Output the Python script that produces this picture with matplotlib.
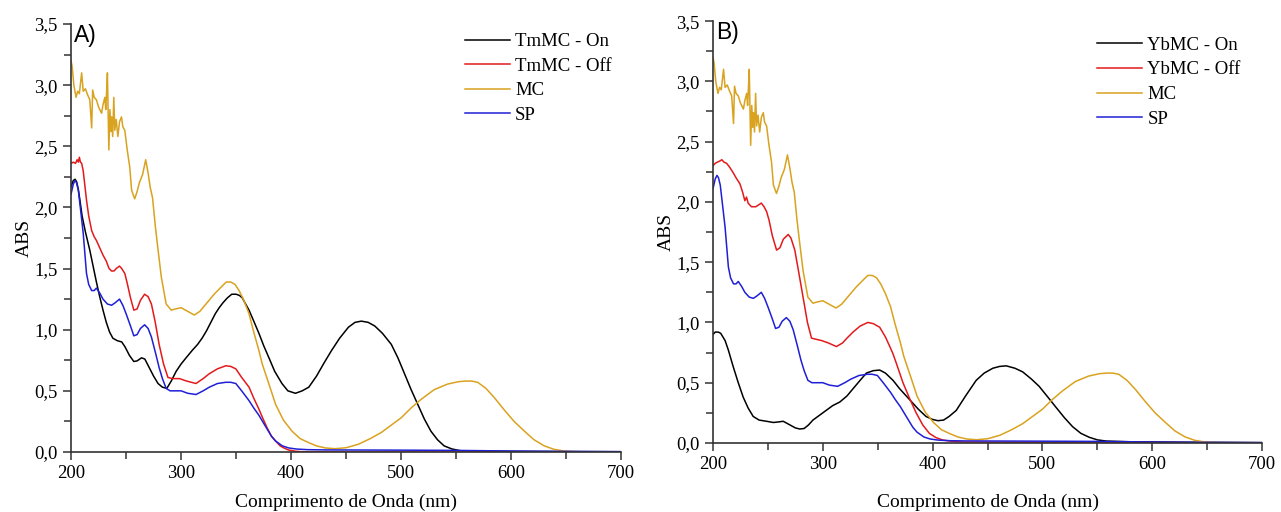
import matplotlib
matplotlib.use("Agg")
import matplotlib.pyplot as plt
from matplotlib.ticker import MultipleLocator, FuncFormatter

plt.rcParams['font.family'] = ['Liberation Serif', 'DejaVu Serif']

# ---- data (nm, absorbance) ----
wl_sp = [200, 202, 203.6, 205, 206.6, 209, 211, 214, 216, 218.7, 221, 223, 226, 229, 233,
         236.8, 240, 244, 247, 250, 254, 257, 260, 263, 266.8, 270, 273, 277, 280, 283,
         286.4, 290, 294, 300, 306, 313.5, 320, 325.6, 333, 340.6, 345, 349.7, 355, 361.7,
         366, 370.7, 374, 378, 382, 385.8, 392, 397.8, 405, 415, 430, 500, 550, 600, 650, 700]
abs_sp = [2.11, 2.19, 2.22, 2.20, 2.14, 1.95, 1.79, 1.46, 1.37, 1.32, 1.32, 1.34, 1.30, 1.25, 1.21,
          1.20, 1.22, 1.25, 1.20, 1.13, 1.03, 0.95, 0.96, 1.01, 1.04, 1.01, 0.94, 0.80, 0.69, 0.60,
          0.52, 0.50, 0.50, 0.50, 0.48, 0.47, 0.50, 0.53, 0.56, 0.57, 0.57, 0.56, 0.50, 0.42,
          0.36, 0.30, 0.25, 0.19, 0.13, 0.09, 0.05, 0.033, 0.024, 0.019, 0.017, 0.015, 0.013, 0.008, 0.005, 0.003]

wl_mc = [200, 201, 202.5, 204.5, 206, 207.5, 209.6, 211, 213, 215, 217, 218.7, 219.6, 221, 223,
         225, 227.7, 229, 230.7, 231.5, 232.2, 233, 234.3, 235.3, 236.2, 236.8, 237.8, 238.8,
         239.7, 241, 242.5, 244, 245.8, 247, 248.8, 251, 253.3, 255, 257.8, 260, 262, 265,
         267.8, 270, 272, 274, 276.5, 278.8, 282, 286.4, 291, 295, 300, 306, 312, 317, 322.6,
         330, 337.6, 341, 345, 349, 352.7, 357, 361.7, 366, 370.7, 373.7, 380, 385.8, 393,
         400.8, 408, 416, 423, 431, 440, 450, 461, 472, 482, 491, 500, 509, 518, 530, 542,
         552, 559, 564, 569.5, 577, 584.6, 594, 602.6, 612, 620.7, 630, 638.8, 648, 657, 670, 700]
abs_mc = [3.20, 3.15, 3.00, 2.90, 2.95, 2.93, 3.10, 2.95, 2.97, 2.92, 2.88, 2.65, 2.96, 2.90, 2.88,
          2.82, 2.77, 2.84, 2.90, 2.80, 2.93, 3.10, 2.47, 2.80, 2.62, 2.74, 2.58, 2.90,
          2.63, 2.72, 2.58, 2.70, 2.74, 2.66, 2.63, 2.47, 2.33, 2.14, 2.07, 2.13, 2.20, 2.27,
          2.39, 2.28, 2.16, 2.08, 1.85, 1.67, 1.43, 1.21, 1.16, 1.17, 1.18, 1.15, 1.12, 1.15, 1.21,
          1.29, 1.36, 1.39, 1.39, 1.37, 1.32, 1.24, 1.13, 0.98, 0.83, 0.72, 0.55, 0.39, 0.26,
          0.17, 0.11, 0.076, 0.05, 0.033, 0.027, 0.035, 0.063, 0.11, 0.16, 0.22, 0.28, 0.36, 0.43, 0.51, 0.555,
          0.575, 0.58, 0.58, 0.57, 0.52, 0.445, 0.34, 0.25, 0.17, 0.10, 0.05, 0.022, 0.008, 0.003, 0.0, 0.0]

wl_tm_on = [200, 202, 203.6, 205, 206.5, 208, 210, 213, 217, 220, 223, 226, 229, 232, 235, 238,
            242, 246, 249, 253, 257, 260, 264, 267, 271, 275, 279, 283, 287, 291, 295.5, 300,
            304.5, 310, 315, 319, 323, 327, 331, 334.6, 338, 342, 346, 350, 353, 355.6, 358,
            361.7, 366, 370.7, 375, 379.8, 385, 391.6, 397, 403.9, 410, 416, 423, 430, 436.7,
            444, 452, 458, 463.8, 470, 476, 483, 491, 497, 503, 509, 515, 521, 527, 533, 539,
            546, 554, 570, 620, 700]
abs_tm_on = [2.17, 2.22, 2.23, 2.21, 2.15, 2.06, 1.93, 1.80, 1.65, 1.52, 1.39, 1.27, 1.16, 1.06, 0.98, 0.93,
             0.91, 0.90, 0.86, 0.79, 0.74, 0.745, 0.77, 0.76, 0.69, 0.62, 0.56, 0.53, 0.52, 0.58, 0.66, 0.72,
             0.77, 0.83, 0.88, 0.93, 0.99, 1.06, 1.13, 1.18, 1.22, 1.26, 1.29, 1.29, 1.28, 1.26, 1.22,
             1.16, 1.07, 0.97, 0.87, 0.77, 0.66, 0.56, 0.50, 0.48, 0.50, 0.53, 0.62, 0.73, 0.83,
             0.93, 1.02, 1.06, 1.07, 1.06, 1.03, 0.97, 0.88, 0.77, 0.64, 0.51, 0.39, 0.27, 0.17, 0.10, 0.05,
             0.025, 0.01, 0.006, 0.004, 0.002]

wl_tm_off = [200, 202, 204, 205.5, 206.6, 207.5, 208.5, 209.6, 211, 212.5, 214, 216, 218.7, 221,
             223, 226, 229, 232, 234.5, 236.8, 239, 241, 244, 246, 248.8, 251, 254, 257, 260, 263,
             266.8, 270, 273, 276.5, 280, 284, 288, 292, 298.5, 305, 313.5, 320, 325.6, 333, 340.6,
             345, 349.7, 355, 361.7, 366, 370.7, 374, 378, 382, 385.8, 390, 394, 397.8, 404, 410, 450, 700]
abs_tm_off = [2.36, 2.37, 2.36, 2.39, 2.37, 2.41, 2.37, 2.36, 2.30, 2.18, 2.06, 1.93, 1.81, 1.76,
              1.73, 1.67, 1.61, 1.56, 1.50, 1.48, 1.48, 1.50, 1.52, 1.50, 1.46, 1.38, 1.26, 1.16, 1.17, 1.24,
              1.29, 1.27, 1.21, 1.06, 0.88, 0.72, 0.61, 0.60, 0.60, 0.58, 0.56, 0.60, 0.64, 0.68, 0.705,
              0.70, 0.68, 0.61, 0.53, 0.44, 0.35, 0.28, 0.20, 0.13, 0.09, 0.05, 0.03, 0.016, 0.006, 0.002, 0.0, 0.0]

wl_yb_on = [200, 202, 204.8, 207, 209, 211, 214, 218.5, 223, 227.5, 232, 236.6, 242, 248.8, 255, 260,
            263.9, 267, 270, 275, 279, 283, 287, 291, 297, 303, 309, 315.5, 322, 327.5, 334, 339.7,
            346, 351.8, 357, 363.9, 370, 379, 387, 394, 400, 404.8, 410, 415, 421.5, 430, 439.7,
            447, 454.8, 461, 467, 475, 482, 490, 497, 505, 512, 520, 527.5, 535, 542.7, 550, 558,
            580, 630, 700]
abs_yb_on = [0.90, 0.92, 0.92, 0.91, 0.88, 0.85, 0.77, 0.63, 0.50, 0.38, 0.29, 0.22, 0.19, 0.18, 0.17, 0.175,
             0.18, 0.165, 0.15, 0.125, 0.116, 0.12, 0.15, 0.19, 0.23, 0.27, 0.31, 0.34, 0.39, 0.45, 0.52, 0.58,
             0.60, 0.605, 0.58, 0.52, 0.45, 0.36, 0.28, 0.22, 0.195, 0.185, 0.19, 0.22, 0.27, 0.39, 0.52,
             0.58, 0.62, 0.635, 0.64, 0.62, 0.59, 0.53, 0.47, 0.38, 0.30, 0.21, 0.135, 0.08, 0.047, 0.026, 0.016,
             0.01, 0.006, 0.003]

wl_yb_off = [200, 202, 204, 206.4, 208, 210, 212.4, 215, 218.5, 221, 224.5, 227, 229, 230.5, 232, 235,
             239, 244, 246.5, 248.8, 251, 254, 257.9, 261, 264, 268.5, 271, 274.5, 278, 282, 286,
             289.7, 294, 298.8, 305, 312.4, 318, 322, 327.5, 334, 341, 346, 351.8, 357, 361, 363.9,
             367, 370, 373, 379, 385, 391, 397, 403, 409, 418, 427.5, 500, 600, 700]
abs_yb_off = [2.30, 2.32, 2.33, 2.34, 2.35, 2.33, 2.32, 2.29, 2.24, 2.20, 2.15, 2.08, 2.01, 2.04, 1.99, 1.96,
              1.96, 1.99, 1.96, 1.92, 1.85, 1.72, 1.60, 1.62, 1.69, 1.73, 1.70, 1.60, 1.42, 1.21, 1.00,
              0.87, 0.86, 0.85, 0.83, 0.80, 0.83, 0.87, 0.92, 0.97, 1.00, 0.99, 0.96, 0.88, 0.80, 0.74,
              0.66, 0.58, 0.50, 0.37, 0.25, 0.15, 0.08, 0.045, 0.025, 0.013, 0.008, 0.005, 0.003, 0.002]

C_ON, C_OFF, C_MC, C_SP = "#000000", "#e31a1c", "#d9a21f", "#1f1fd6"

panels = [
    dict(tag="A)", on=(wl_tm_on, abs_tm_on, "TmMC - On"), off=(wl_tm_off, abs_tm_off, "TmMC - Off"),
         rect=[0.0555, 0.1172, 0.4295, 0.836], leg=(0.716, 0.979), xpad=8.0, ypad=1.5),
    dict(tag="B)", on=(wl_yb_on, abs_yb_on, "YbMC - On"), off=(wl_yb_off, abs_yb_off, "YbMC - Off"),
         rect=[0.5566, 0.1348, 0.4286, 0.824], leg=(0.700, 0.963), xpad=15.0, ypad=1.0),
]

comma = FuncFormatter(lambda v, p: f"{v:.1f}".replace(".", ","))

fig = plt.figure(figsize=(12.81, 5.12), dpi=100)
for p in panels:
    ax = fig.add_axes(p["rect"])
    ax.plot(p["on"][0], p["on"][1], color=C_ON, lw=1.1, label=p["on"][2])
    ax.plot(p["off"][0], p["off"][1], color=C_OFF, lw=1.1, label=p["off"][2])
    ax.plot(wl_mc, abs_mc, color=C_MC, lw=1.1, label="MC")
    ax.plot(wl_sp, abs_sp, color=C_SP, lw=1.1, label="SP")

    ax.set_xlim(200, 700)
    ax.set_ylim(0, 3.5)
    for s in ("top", "right"):
        ax.spines[s].set_visible(False)
    for s in ("left", "bottom"):
        ax.spines[s].set_linewidth(1.2)
        ax.spines[s].set_color("#333333")
    ax.xaxis.set_major_locator(MultipleLocator(100))
    ax.xaxis.set_minor_locator(MultipleLocator(50))
    ax.yaxis.set_major_locator(MultipleLocator(0.5))
    ax.yaxis.set_minor_locator(MultipleLocator(0.25))
    ax.yaxis.set_major_formatter(comma)
    ax.tick_params(which="both", direction="out", width=1.1, color="#333333", labelsize=13.5)
    ax.tick_params(which="major", length=6)
    ax.tick_params(which="minor", length=5)
    ax.set_xlabel("Comprimento de Onda (nm)", fontsize=14, labelpad=p["xpad"])
    ax.set_ylabel("ABS", fontsize=14, labelpad=p["ypad"])
    ax.text(0.005, 1.0, p["tag"], transform=ax.transAxes, ha="left", va="top",
            fontsize=16.5, family=["Liberation Sans", "DejaVu Sans"])
    ax.legend(loc="upper left", bbox_to_anchor=p["leg"], frameon=False, fontsize=13.5,
              handlelength=2.4, handletextpad=0.27, labelspacing=0.4, borderaxespad=0,
              borderpad=0)

fig.savefig("out.png", dpi=100, facecolor="white")
